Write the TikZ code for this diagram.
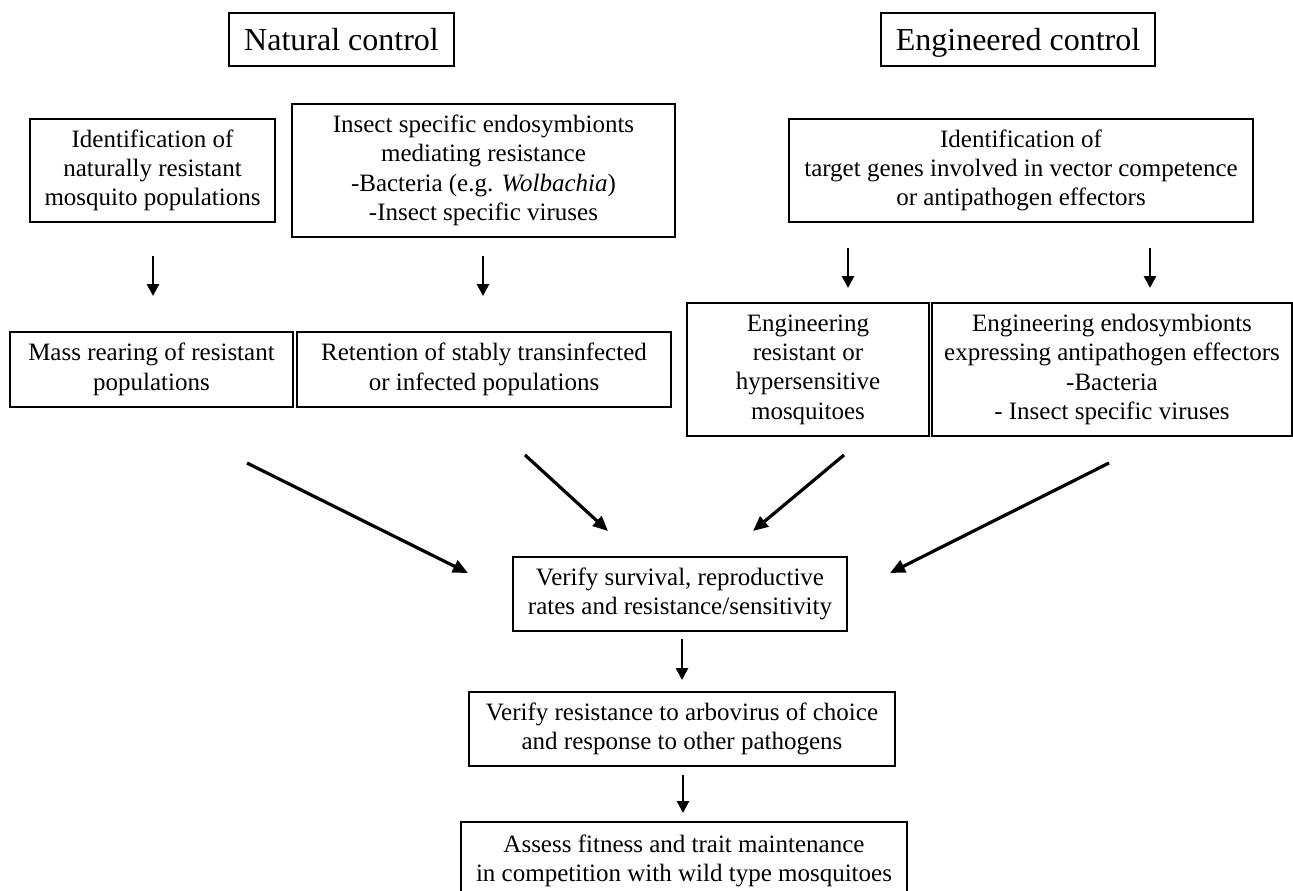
\documentclass[tikz,border=0pt]{standalone}
\usepackage{fontspec}
\setmainfont{Liberation Serif}
\usetikzlibrary{arrows.meta}
\tikzset{
  box/.style={draw, line width=1.1pt, align=center, inner sep=0pt,
    font=\fontsize{25}{29.3}\selectfont,
    execute at begin node={\rule{0pt}{23pt}}},
  titlebox/.style={draw, line width=1.1pt, align=center, inner sep=0pt,
    font=\fontsize{32}{38}\selectfont, text height=22.4pt, text depth=0pt},
  varr/.style={line width=2.7pt, -{Triangle[length=12pt,width=12pt]}},
  darr/.style={line width=3.2pt, -{Triangle[length=15pt,width=13pt]}},
}
\begin{document}
\begin{tikzpicture}[x=1pt,y=-1pt]
\useasboundingbox (0,0) rectangle (1293,891);
\clip (0,0) rectangle (1293,891);
% titles
\node[titlebox, minimum width=225pt, minimum height=53pt] (nat) at (341.5,39.5) {Natural control};
\node[titlebox, minimum width=274pt, minimum height=53pt] (eng) at (1018,39.5) {Engineered control};
% first row
\node[box, minimum width=245pt, minimum height=103pt] (A) at (152.5,170.5)
  {Identification of\\naturally resistant\\mosquito populations};
\node[box, minimum width=383pt, minimum height=133pt] (B) at (483.5,170.5)
  {Insect specific endosymbionts\\mediating resistance\\-Bacteria (e.g. \textit{Wolbachia})\\-Insect specific viruses};
\node[box, minimum width=464pt, minimum height=103pt] (C) at (1021,170.5)
  {Identification of\\target genes involved in vector competence\\or antipathogen effectors};
% second row
\node[box, minimum width=283pt, minimum height=75pt] (D) at (151.5,369.5)
  {Mass rearing of resistant\\populations};
\node[box, minimum width=374pt, minimum height=75pt] (E) at (484,369.5)
  {Retention of stably transinfected\\or infected populations};
\node[box, minimum width=242pt, minimum height=133pt] (F) at (808,369.5)
  {Engineering\\resistant or\\hypersensitive\\mosquitoes};
\node[box, minimum width=360pt, minimum height=133pt] (G) at (1112,369.5)
  {Engineering endosymbionts\\expressing antipathogen effectors\\-Bacteria\\- Insect specific viruses};
% verification chain
\node[box, minimum width=334pt, minimum height=74pt] (V1) at (680,594)
  {Verify survival, reproductive\\rates and resistance/sensitivity};
\node[box, minimum width=426pt, minimum height=74pt] (V2) at (682,729)
  {Verify resistance to arbovirus of choice\\and response to other pathogens};
\node[box, minimum width=446pt, minimum height=78pt] (V3) at (684,861)
  {Assess fitness and trait maintenance\\in competition with wild type mosquitoes};
% arrow end points
\coordinate (a1s) at (153,256); \coordinate (a1e) at (153,296);
\coordinate (a2s) at (483,256); \coordinate (a2e) at (483,296);
\coordinate (a3s) at (848,248); \coordinate (a3e) at (848,288);
\coordinate (a4s) at (1150,248); \coordinate (a4e) at (1150,288);
\coordinate (a5s) at (682,639); \coordinate (a5e) at (682,680);
\coordinate (a6s) at (683,775); \coordinate (a6e) at (683,813);
\coordinate (d1s) at (247,463); \coordinate (d1e) at (468,573);
\coordinate (d2s) at (525,455); \coordinate (d2e) at (608,531);
\coordinate (d3s) at (844,455); \coordinate (d3e) at (753,531);
\coordinate (d4s) at (1109,463); \coordinate (d4e) at (890,573);
% arrows
\draw[varr] (a1s) -- (a1e);
\draw[varr] (a2s) -- (a2e);
\draw[varr] (a3s) -- (a3e);
\draw[varr] (a4s) -- (a4e);
\draw[varr] (a5s) -- (a5e);
\draw[varr] (a6s) -- (a6e);
\draw[darr] (d1s) -- (d1e);
\draw[darr] (d2s) -- (d2e);
\draw[darr] (d3s) -- (d3e);
\draw[darr] (d4s) -- (d4e);
\end{tikzpicture}
\end{document}
